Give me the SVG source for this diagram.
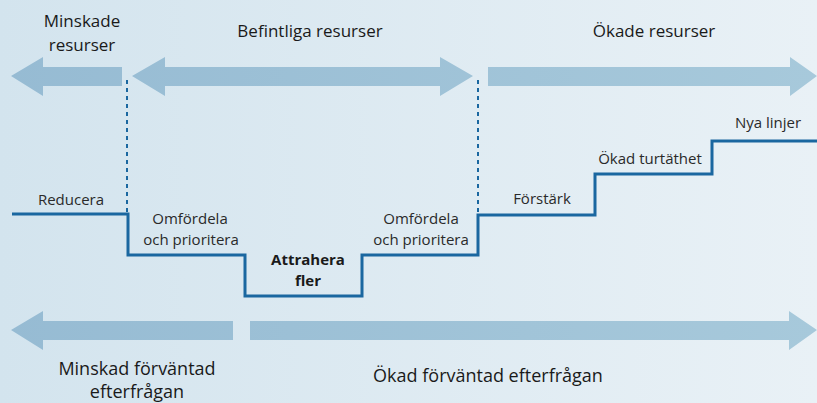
<svg xmlns="http://www.w3.org/2000/svg" width="817" height="403" viewBox="0 0 817 403">
  <defs>
    <linearGradient id="bg" x1="0" y1="0" x2="817" y2="0" gradientUnits="userSpaceOnUse">
      <stop offset="0" stop-color="#d3e4ee"/>
      <stop offset="1" stop-color="#e9f1f6"/>
    </linearGradient>
    <linearGradient id="arr" x1="0" y1="0" x2="817" y2="0" gradientUnits="userSpaceOnUse">
      <stop offset="0" stop-color="#96bbd3"/>
      <stop offset="1" stop-color="#a7c9db"/>
    </linearGradient>
  </defs>
  <style>
    .arrow { fill: url(#arr); }
    .step { fill: none; stroke: #1a67a0; stroke-width: 3; stroke-linejoin: miter; }
    .dot { fill: none; stroke: #1a67a0; stroke-width: 2; stroke-dasharray: 4 4; }
    text { font-family: "Open Sans", "DejaVu Sans", sans-serif; fill: #1a1a1a; text-anchor: middle; }
    .big { font-size: 17px; }
    .bot { font-size: 18px; }
    .sm { font-size: 15px; fill: #2a2a2a; }
    .bold { font-size: 15px; font-weight: bold; }
  </style>
  <rect x="0" y="0" width="817" height="403" fill="url(#bg)"/>

  <g id="arrows-resources">
    <polygon id="arrow-minskade" class="arrow" points="11,76 43,57 43,67 122,67 122,86 43,86 43,96"/>
    <polygon id="arrow-befintliga" class="arrow" points="132,76 165,57 165,67 440,67 440,57 473,76 440,96 440,86 165,86 165,96"/>
    <polygon id="arrow-okade" class="arrow" points="488,67 790,67 790,57 817,76 790,96 790,86 488,86"/>
  </g>
  <g id="arrows-demand">
    <polygon id="arrow-minskad-efterfragan" class="arrow" points="11,330 43,311 43,321 233,321 233,340 43,340 43,350"/>
    <polygon id="arrow-okad-efterfragan" class="arrow" points="250,321 789,321 789,311 817,330 789,350 789,340 250,340"/>
  </g>

  <g id="connectors">
    <line class="dot" x1="127" y1="80" x2="127" y2="212"/>
    <line class="dot" x1="478" y1="80" x2="478" y2="213"/>
    <polyline class="step" points="12,214 128,214 128,255 245,255 245,296 362,296 362,255 478,255 478,215 595,215 595,174 712,174 712,141 817,141"/>
  </g>

  <g id="label-minskade">
    <text class="big" x="82" y="27">Minskade</text>
    <text class="big" x="82" y="51">resurser</text>
  </g>
  <g id="label-befintliga">
    <text class="big" x="310" y="37">Befintliga resurser</text>
  </g>
  <g id="label-okade">
    <text class="big" x="654" y="37">Ökade resurser</text>
  </g>

  <g id="node-reducera">
    <text class="sm" x="71" y="205">Reducera</text>
  </g>
  <g id="node-omfordela-1">
    <text class="sm" x="190" y="224">Omfördela</text>
    <text class="sm" x="191" y="245">och prioritera</text>
  </g>
  <g id="node-attrahera">
    <text class="bold" x="308" y="265">Attrahera</text>
    <text class="bold" x="308" y="286">fler</text>
  </g>
  <g id="node-omfordela-2">
    <text class="sm" x="421" y="224">Omfördela</text>
    <text class="sm" x="421" y="245">och prioritera</text>
  </g>
  <g id="node-forstark">
    <text class="sm" x="542" y="204">Förstärk</text>
  </g>
  <g id="node-turtathet">
    <text class="sm" x="650" y="164">Ökad turtäthet</text>
  </g>
  <g id="node-nya-linjer">
    <text class="sm" x="768" y="128">Nya linjer</text>
  </g>

  <g id="label-minskad-efterfragan">
    <text class="bot" x="137" y="375">Minskad förväntad</text>
    <text class="bot" x="137" y="398">efterfrågan</text>
  </g>
  <g id="label-okad-efterfragan">
    <text class="bot" x="488" y="382">Ökad förväntad efterfrågan</text>
  </g>
</svg>
